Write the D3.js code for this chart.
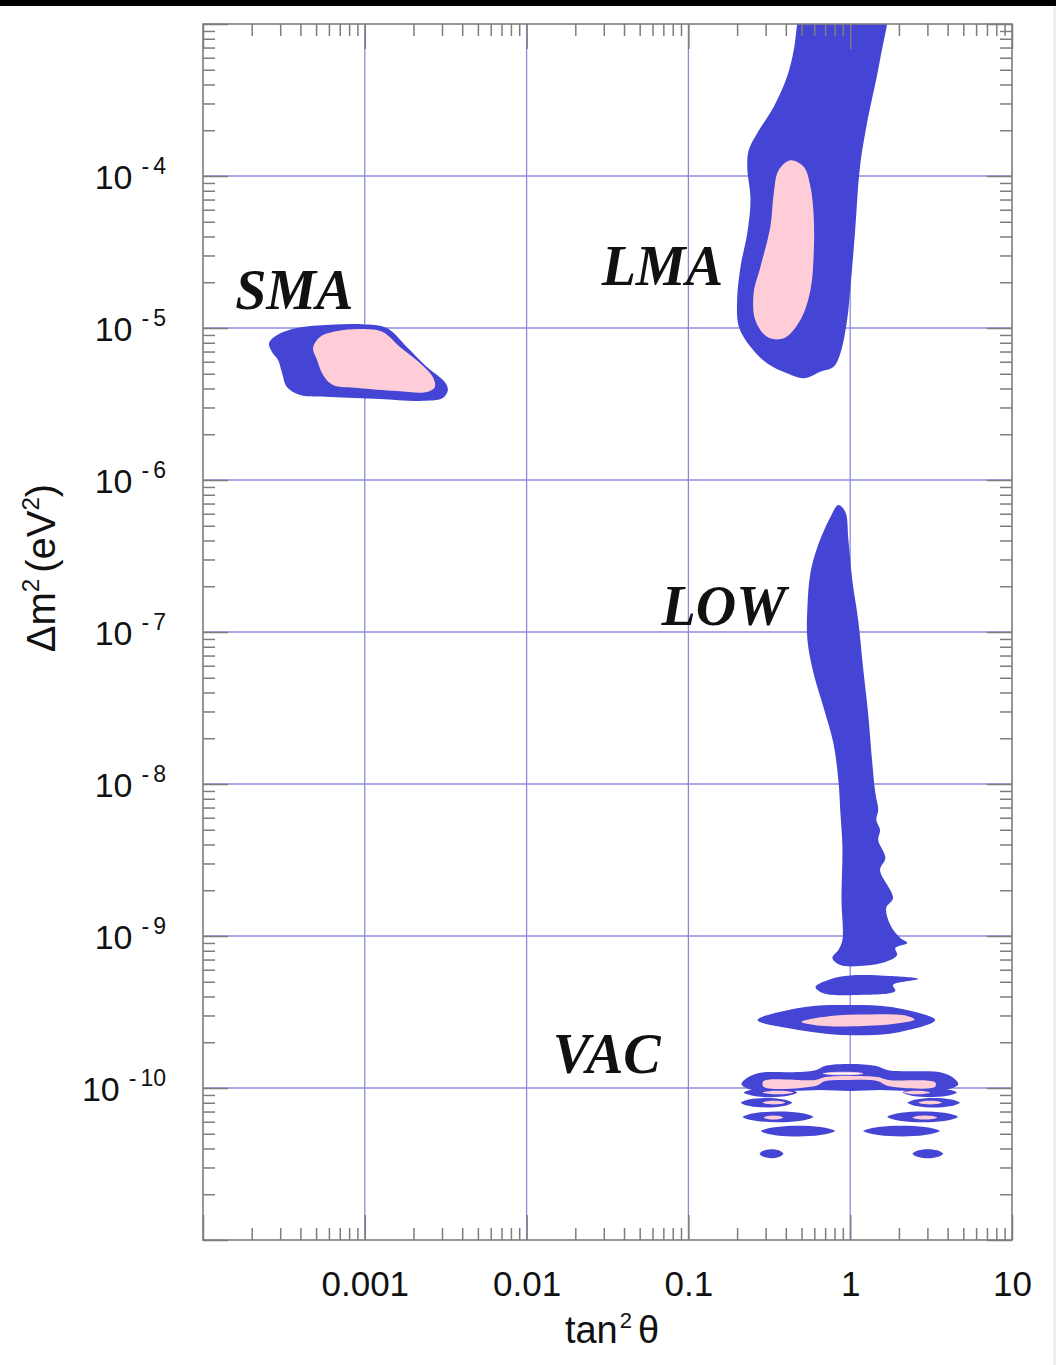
<!DOCTYPE html>
<html>
<head>
<meta charset="utf-8">
<script src="https://cdn.jsdelivr.net/npm/d3@7"></script>
<style>
body { margin: 0; background: #fff; }
svg { display: block; }
</style>
</head>
<body>
<script>
// tick labels
var xTicks = [0.001, 0.01, 0.1, 1, 10];
var xTickLabels = ["0.001", "0.01", "0.1", "1", "10"];
var yTicks = [1e-4, 1e-5, 1e-6, 1e-7, 1e-8, 1e-9, 1e-10];
var yTickExps = ["4", "5", "6", "7", "8", "9", "10"];

// allowed regions, [tan^2 theta, dm^2]
var smaOuter = [[2.56e-4, 7.96e-6], [2.87e-4, 9.0e-6], [3.81e-4, 1.0e-5], [6.1e-4, 1.05e-5], [9.6e-4, 1.06e-5],
    [1.37e-3, 1.0e-5], [1.82e-3, 7.5e-6], [2.42e-3, 5.54e-6], [3.12e-3, 4.41e-6], [3.26e-3, 3.91e-6],
    [3.03e-3, 3.46e-6], [2.19e-3, 3.31e-6], [1.24e-3, 3.41e-6], [6.1e-4, 3.52e-6], [3.98e-4, 3.62e-6],
    [3.3e-4, 4.09e-6], [3.08e-4, 5.06e-6], [2.91e-4, 6.16e-6], [2.67e-4, 6.95e-6]];
var smaInner = [[4.79e-4, 7.38e-6], [5.29e-4, 8.73e-6], [6.73e-4, 9.56e-6], [9.6e-4, 9.85e-6], [1.29e-3, 9.41e-6],
    [1.65e-3, 7.5e-6], [2.19e-3, 5.89e-6], [2.63e-3, 4.76e-6], [2.71e-3, 4.09e-6], [2.42e-3, 3.79e-6],
    [1.58e-3, 3.85e-6], [9.08e-4, 4.03e-6], [6.36e-4, 4.22e-6], [5.52e-4, 4.91e-6], [5.07e-4, 6.16e-6]];

var lmaOuter = [[0.49, 1.3e-3], [0.47, 1.0e-3], [0.448, 6.74e-4], [0.407, 4.5e-4], [0.337, 2.86e-4],
    [0.266, 1.91e-4], [0.236, 1.48e-4], [0.231, 1.15e-4], [0.242, 6.95e-5], [0.231, 4.2e-5],
    [0.21, 2.53e-5], [0.2, 1.53e-5], [0.205, 1.02e-5], [0.242, 7.53e-6], [0.306, 5.86e-6],
    [0.407, 5.03e-6], [0.516, 4.67e-6], [0.655, 5.16e-6], [0.79, 5.56e-6], [0.87, 6.82e-6],
    [0.957, 1.13e-5], [1.0, 1.78e-5], [1.07, 4.2e-5], [1.15, 1.15e-4], [1.27, 2.22e-4],
    [1.46, 4.5e-4], [1.57, 6.74e-4], [1.69, 1.0e-3], [1.75, 1.3e-3]];
var lmaInner = [[0.427, 1.27e-4], [0.516, 1.15e-4], [0.568, 8.51e-5], [0.595, 5.4e-5], [0.595, 3.1e-5],
    [0.568, 1.78e-5], [0.492, 1.13e-5], [0.388, 8.55e-6], [0.306, 8.77e-6], [0.259, 1.13e-5],
    [0.253, 1.69e-5], [0.279, 2.53e-5], [0.321, 4.64e-5], [0.337, 7.69e-5], [0.361, 1.09e-4]];

var lowMain = [[0.845, 6.85e-7], [0.933, 6.16e-7], [0.975, 4.03e-7], [1.03, 2.2e-7], [1.12, 1.2e-7],
    [1.20, 5.89e-8], [1.29, 2.93e-8], [1.37, 1.37e-8], [1.43, 8.73e-9], [1.49, 6.74e-9],
    [1.45, 5.8e-9], [1.53, 4.98e-9], [1.49, 4.28e-9], [1.65, 3.26e-9], [1.53, 2.72e-9],
    [1.84, 1.78e-9], [1.67, 1.53e-9], [1.77, 1.18e-9], [2.04, 9.7e-10], [2.25, 9.0e-10],
    [1.90, 8.34e-10], [1.95, 7.5e-10], [1.65, 6.74e-10], [1.15, 6.35e-10], [0.87, 6.44e-10],
    [0.776, 7.17e-10], [0.845, 8.09e-10], [0.895, 9.4e-10], [0.883, 1.78e-9], [0.895, 3.85e-9],
    [0.87, 6.44e-9], [0.845, 1.06e-8], [0.787, 1.86e-8], [0.683, 3.21e-8], [0.593, 5.37e-8],
    [0.544, 8.86e-8], [0.544, 1.46e-7], [0.568, 2.45e-7], [0.627, 3.62e-7], [0.755, 5.71e-7]];
var lowBand1 = [[0.61, 4.62e-10], [0.755, 5.2e-10], [1.0, 5.5e-10], [1.77, 5.45e-10], [2.63, 5.21e-10],
    [1.84, 4.76e-10], [1.90, 4.35e-10], [1.20, 4.1e-10], [0.683, 4.2e-10]];
var lowBand2Outer = [[0.267, 2.8e-10], [0.514, 3.4e-10], [1.0, 3.52e-10], [1.84, 3.4e-10], [3.35, 2.8e-10],
    [2.04, 2.34e-10], [1.04, 2.22e-10], [0.514, 2.38e-10]];
var lowBand2Inner = [[0.50, 2.72e-10], [0.755, 2.98e-10], [1.33, 3.05e-10], [2.25, 2.98e-10], [2.5, 2.82e-10],
    [1.84, 2.64e-10], [1.04, 2.55e-10], [0.655, 2.57e-10]];

var vacArchOuter = [[0.213, 1.06e-10], [0.235, 1.18e-10], [0.279, 1.26e-10], [0.427, 1.27e-10], [0.61, 1.31e-10],
    [0.703, 1.40e-10], [1.0, 1.44e-10], [1.43, 1.40e-10], [1.72, 1.31e-10], [2.52, 1.29e-10],
    [3.6, 1.27e-10], [4.27, 1.18e-10], [4.65, 1.06e-10], [3.86, 9.7e-11], [2.35, 9.56e-11],
    [1.53, 9.7e-11], [1.0, 9.56e-11], [0.655, 9.7e-11], [0.427, 9.56e-11], [0.249, 9.7e-11]];
var vacArchInner = [[0.291, 1.11e-10], [0.61, 1.13e-10], [0.703, 1.18e-10], [1.0, 1.20e-10], [1.47, 1.18e-10],
    [1.72, 1.13e-10], [3.35, 1.09e-10], [3.35, 1.02e-10], [1.72, 1.03e-10], [1.47, 1.11e-10],
    [1.0, 1.13e-10], [0.703, 1.11e-10], [0.61, 1.03e-10], [0.291, 1.02e-10]];

// small VAC islands: [tan min, tan max, dm min, dm max]
var vacIslands = [[0.219, 0.472, 8.7e-11, 1.0e-10], [2.10, 4.58, 8.7e-11, 1.0e-10],
    [0.21, 0.44, 7.45e-11, 8.6e-11], [2.25, 4.79, 7.45e-11, 8.6e-11],
    [0.216, 0.593, 5.95e-11, 7.0e-11], [1.69, 4.65, 5.95e-11, 7.0e-11],
    [0.279, 0.81, 4.8e-11, 5.65e-11], [1.20, 3.6, 4.8e-11, 5.65e-11],
    [0.275, 0.387, 3.45e-11, 3.95e-11], [2.42, 3.76, 3.45e-11, 3.95e-11]];
var vacIslandsInner = [[0.287, 0.446, 9.1e-11, 9.6e-11], [2.13, 3.12, 9.1e-11, 9.6e-11],
    [0.287, 0.398, 7.8e-11, 8.25e-11], [2.63, 3.7, 7.8e-11, 8.25e-11],
    [0.291, 0.387, 6.2e-11, 6.6e-11], [2.42, 3.45, 6.2e-11, 6.6e-11]];
var vacHoles = [[0.683, 1.20, 1.22e-10, 1.27e-10]];

var regionNames = ["SMA", "LMA", "LOW", "VAC"];
var regionAt = [[1.58e-4, 1.33e-5], [0.0291, 1.92e-5], [0.0683, 1.11e-7], [0.0145, 1.26e-10]];

var width = 1056, height = 1365;
var blue = "#4545d5", pink = "#ffcdd8";

var x = d3.scaleLog().domain([1e-4, 10]).range([203, 1012]);
var y = d3.scaleLog().domain([1e-11, 1e-3]).range([1240, 24]);

function isDecade(v) {
    var l = Math.log10(v);
    return Math.abs(l - Math.round(l)) < 1e-6;
}
var xMinor = x.ticks().filter(function(d) { return !isDecade(d); });
var xMajor = x.ticks().filter(isDecade);
var yMinor = y.ticks().filter(function(d) { return !isDecade(d); });
var yMajor = y.ticks().filter(isDecade);

var svg = d3.select("body").append("svg")
    .attr("width", width)
    .attr("height", height);

svg.append("rect").attr("width", width).attr("height", 6).attr("fill", "#000");
svg.append("rect").attr("x", 1053).attr("y", 6).attr("width", 3).attr("height", height - 6).attr("fill", "#eee");

svg.append("clipPath").attr("id", "plot")
    .append("rect")
    .attr("x", 203).attr("y", 24)
    .attr("width", 1012 - 203).attr("height", 1240 - 24);

// grid
var grid = svg.append("g").attr("stroke", "#8c8cdc").attr("stroke-width", 1.3);
grid.selectAll(".gx").data(xTicks.filter(function(d) { return d < 10; }))
    .enter().append("line")
    .attr("x1", function(d) { return x(d); }).attr("x2", function(d) { return x(d); })
    .attr("y1", 24).attr("y2", 1240);
grid.selectAll(".gy").data(yTicks)
    .enter().append("line")
    .attr("y1", function(d) { return y(d); }).attr("y2", function(d) { return y(d); })
    .attr("x1", 203).attr("x2", 1012);

// contours
var line = d3.line()
    .x(function(d) { return x(d[0]); })
    .y(function(d) { return y(d[1]); })
    .curve(d3.curveCatmullRomClosed.alpha(0.5));

var regions = svg.append("g").attr("clip-path", "url(#plot)");

// island outline from its extents
function lens(d) {
    var x0 = x(d[0]), x1 = x(d[1]), yt = y(d[3]), yb = y(d[2]);
    var w = x1 - x0, cy = (yt + yb) / 2, h = (yb - yt) / 2 * 4 / 3;
    return "M" + x0 + "," + cy +
        "C" + (x0 + w * 0.15) + "," + (cy - h) + " " + (x1 - w * 0.15) + "," + (cy - h) + " " + x1 + "," + cy +
        "C" + (x1 - w * 0.15) + "," + (cy + h) + " " + (x0 + w * 0.15) + "," + (cy + h) + " " + x0 + "," + cy + "Z";
}

[smaOuter, lmaOuter, lowMain, lowBand1, lowBand2Outer, vacArchOuter].forEach(function(s) {
    regions.append("path").attr("d", line(s)).attr("fill", blue);
});
regions.selectAll(".isl").data(vacIslands).enter().append("path")
    .attr("d", lens).attr("fill", blue);
[smaInner, lmaInner, lowBand2Inner, vacArchInner].forEach(function(s) {
    regions.append("path").attr("d", line(s)).attr("fill", pink);
});
regions.selectAll(".isl2").data(vacIslandsInner).enter().append("path")
    .attr("d", lens).attr("fill", pink);
regions.selectAll(".hole").data(vacHoles).enter().append("path")
    .attr("d", lens).attr("fill", "#fff").attr("stroke", pink).attr("stroke-width", 0.8);

// axes
function tidy(g) {
    g.select(".domain").remove();
    g.selectAll("line").attr("stroke", "#7d7d7d").attr("stroke-width", 1.5);
}
svg.append("g").attr("transform", "translate(0,1240)")
    .call(d3.axisBottom(x).tickValues(xMinor).tickSize(-12).tickFormat("")).call(tidy);
var bottom = svg.append("g").attr("transform", "translate(0,1240)")
    .call(d3.axisBottom(x).tickValues(xMajor).tickSize(-25).tickPadding(31)
        .tickFormat(function(d) {
            var i = xTicks.findIndex(function(v) { return Math.abs(Math.log10(v) - Math.log10(d)) < 1e-6; });
            return i < 0 ? "" : xTickLabels[i];
        }))
    .call(tidy);
bottom.selectAll("text").attr("font-family", "'Liberation Sans', Arial, sans-serif")
    .attr("font-size", 35).attr("fill", "#111");

svg.append("g").attr("transform", "translate(0,24)")
    .call(d3.axisTop(x).tickValues(xMinor).tickSize(-12).tickFormat("")).call(tidy);
svg.append("g").attr("transform", "translate(0,24)")
    .call(d3.axisTop(x).tickValues(xMajor).tickSize(-25).tickFormat("")).call(tidy);

svg.append("g").attr("transform", "translate(203,0)")
    .call(d3.axisLeft(y).tickValues(yMinor).tickSize(-12).tickFormat("")).call(tidy);
var left = svg.append("g").attr("transform", "translate(203,0)")
    .call(d3.axisLeft(y).tickValues(yMajor).tickSize(-25).tickPadding(37)).call(tidy);
left.selectAll(".tick text").each(function(d) {
    var i = yTicks.findIndex(function(v) { return Math.abs(Math.log10(v) - Math.log10(d)) < 1e-6; });
    var t = d3.select(this).text("")
        .attr("font-family", "'Liberation Sans', Arial, sans-serif")
        .attr("font-size", 34).attr("fill", "#111").attr("dy", "0.38em");
    if (i < 0) return;
    t.append("tspan").text("10");
    t.append("tspan").attr("dx", 9).attr("dy", -15).attr("font-size", 23).text("-");
    t.append("tspan").attr("dx", 4).attr("font-size", 23).text(yTickExps[i]);
});

svg.append("g").attr("transform", "translate(1012,0)")
    .call(d3.axisRight(y).tickValues(yMinor).tickSize(-12).tickFormat("")).call(tidy);
svg.append("g").attr("transform", "translate(1012,0)")
    .call(d3.axisRight(y).tickValues(yMajor).tickSize(-25).tickFormat("")).call(tidy);

// frame
svg.append("rect")
    .attr("x", 203).attr("y", 24)
    .attr("width", 1012 - 203).attr("height", 1240 - 24)
    .attr("fill", "none").attr("stroke", "#7d7d7d").attr("stroke-width", 1.6);

// axis titles
var xt = svg.append("text")
    .attr("x", 612).attr("y", 1343)
    .attr("text-anchor", "middle")
    .attr("font-family", "'Liberation Sans', Arial, sans-serif")
    .attr("font-size", 38).attr("fill", "#111");
xt.append("tspan").text("tan");
xt.append("tspan").attr("dy", -15).attr("dx", 2).attr("font-size", 22).text("2");
xt.append("tspan").attr("dy", 15).attr("dx", 6).text("\u03b8");

var yt = svg.append("text")
    .attr("transform", "translate(55,568) rotate(-90)")
    .attr("text-anchor", "middle")
    .attr("font-family", "'Liberation Sans', Arial, sans-serif")
    .attr("font-size", 40).attr("fill", "#111");
yt.append("tspan").text("\u0394m");
yt.append("tspan").attr("dy", -16).attr("font-size", 24).text("2");
yt.append("tspan").attr("dy", 16).attr("dx", 6).text("(eV");
yt.append("tspan").attr("dy", -16).attr("font-size", 24).text("2");
yt.append("tspan").attr("dy", 16).text(")");

// region names
svg.selectAll(".region").data(regionNames).enter().append("text")
    .attr("x", function(d, i) { return x(regionAt[i][0]); })
    .attr("y", function(d, i) { return y(regionAt[i][1]); })
    .attr("font-family", "'Liberation Serif', 'Times New Roman', serif")
    .attr("font-style", "italic").attr("font-weight", "bold")
    .attr("font-size", 56).attr("fill", "#111")
    .text(function(d) { return d; });
</script>
</body>
</html>
